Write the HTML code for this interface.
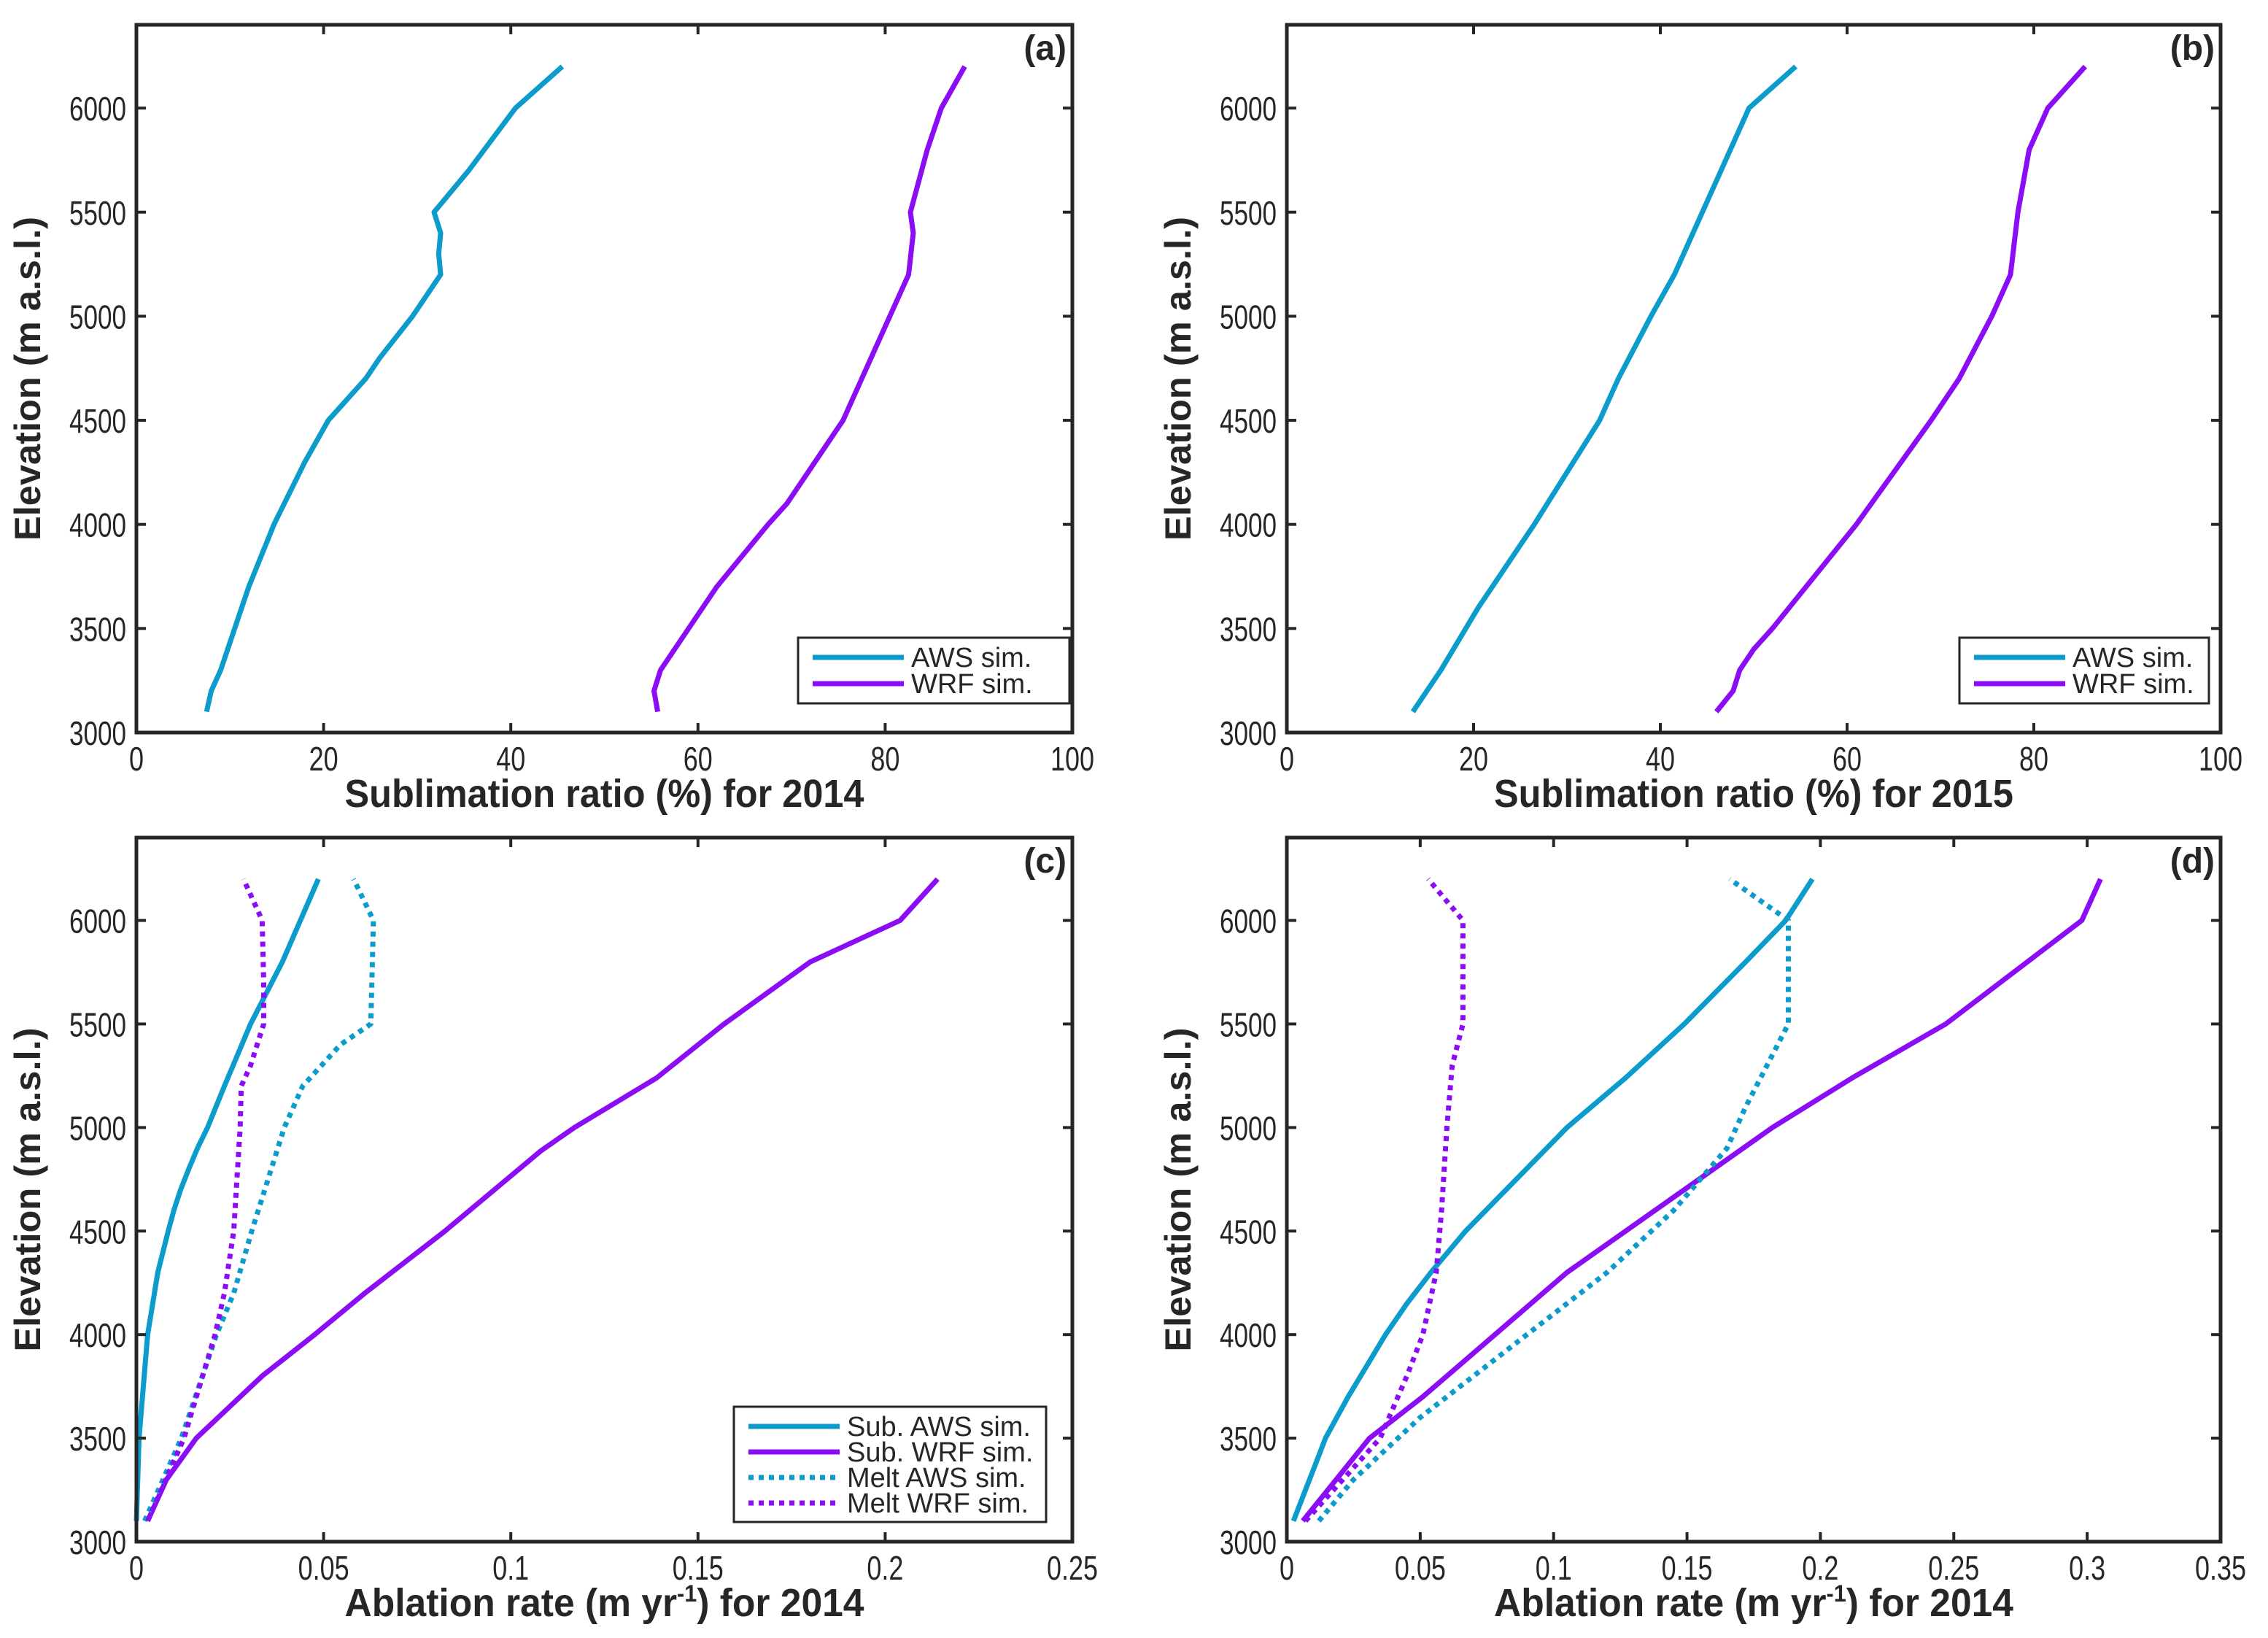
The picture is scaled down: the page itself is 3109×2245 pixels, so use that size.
<!DOCTYPE html>
<html><head><meta charset="utf-8">
<style>
html,body{margin:0;padding:0;background:#fff;}
svg{display:block;}
text{fill:#262626;}
.tk{font-family:"Liberation Sans Narrow","Liberation Sans",sans-serif;font-size:46px;}
.tt{font-family:"Liberation Sans Narrow","Liberation Sans",sans-serif;font-size:54px;font-weight:bold;}
.yt{font-family:"Liberation Sans",sans-serif;font-size:50px;font-weight:bold;}
.pl{font-family:"Liberation Sans",sans-serif;font-size:48px;font-weight:bold;}
.lg{font-family:"Liberation Sans Narrow","Liberation Sans",sans-serif;font-size:38px;}
</style></head>
<body>
<svg id="fig" width="3109" height="2245" viewBox="0 0 3109 2245" xmlns="http://www.w3.org/2000/svg"></svg>
<script>
const BLUE="#0b9ccb", PURPLE="#8b0df5";
// Panel (a) data — sublimation ratio 2014
const elevA_aws=[3100,3200,3300,3500,3700,4000,4300,4500,4700,4800,5000,5200,5300,5400,5500,5700,6000,6200];
const valA_aws=[7.5,8,9,10.5,12,14.7,18,20.5,24.5,26,29.5,32.5,32.3,32.5,31.8,35.5,40.5,45.5];
const elevA_wrf=[3100,3200,3300,3400,3700,4000,4100,4500,4700,5000,5200,5400,5500,5800,6000,6200];
const valA_wrf=[55.7,55.3,56,57.5,62,67.5,69.5,75.5,77.5,80.5,82.5,83,82.7,84.5,86,88.5];
// Panel (b) data — sublimation ratio 2015
const elevB_aws=[3100,3200,3300,3600,4000,4500,4700,5000,5200,5500,5800,6000,6200];
const valB_aws=[13.5,15,16.5,20.5,26.5,33.5,35.5,39,41.5,44.5,47.5,49.5,54.5];
const elevB_wrf=[3100,3200,3300,3400,3500,4000,4500,4700,5000,5200,5500,5800,6000,6200];
const valB_wrf=[46,47.8,48.5,50,52,61,69,72,75.5,77.5,78.3,79.5,81.5,85.5];
// Panel (c) data — ablation rate
const elevC_sa=[3100,3500,4000,4300,4500,4600,4700,4800,4900,5000,5200,5500,5800,6200];
const valC_sa=[0,0.0007,0.003,0.0057,0.0085,0.0100,0.0118,0.0140,0.0163,0.019,0.0235,0.0305,0.039,0.0486];
const elevC_sw=[3100,3300,3500,3800,4000,4200,4500,4887,5000,5240,5500,5800,6000,6200];
const valC_sw=[0.003,0.008,0.016,0.0336,0.0476,0.061,0.0824,0.108,0.117,0.139,0.157,0.18,0.204,0.214];
const elevC_ma=[3100,3500,4000,4200,4500,5000,5200,5400,5500,6000,6200];
const valC_ma=[0.0022,0.012,0.0214,0.026,0.0308,0.0395,0.0444,0.0545,0.0626,0.0633,0.058];
const elevC_mw=[3100,3500,4000,4200,4500,5000,5200,5300,5500,5700,6000,6200];
const valC_mw=[0.003,0.0127,0.021,0.0235,0.026,0.0277,0.028,0.0305,0.034,0.034,0.0336,0.0286];
// Panel (d) data — ablation rate
const elevD_sa=[3100,3200,3300,3400,3500,3700,3850,4000,4150,4300,4500,5000,5240,5500,5800,6000,6200];
const valD_sa=[0.0025,0.0055,0.0085,0.0115,0.0145,0.023,0.030,0.037,0.045,0.054,0.067,0.105,0.127,0.149,0.172,0.187,0.197];
const elevD_sw=[3100,3500,3700,4000,4300,4600,5000,5240,5500,6000,6200];
const valD_sw=[0.006,0.031,0.051,0.078,0.105,0.138,0.182,0.212,0.247,0.298,0.305];
const elevD_ma=[3100,3300,3600,4000,4300,4600,4900,5100,5300,5500,6000,6200];
const valD_ma=[0.012,0.025,0.05,0.09,0.12,0.145,0.165,0.172,0.18,0.188,0.188,0.166];
const elevD_mw=[3100,3500,3800,4000,4300,4600,5000,5300,5500,6000,6200];
const valD_mw=[0.007,0.035,0.045,0.051,0.056,0.058,0.06,0.062,0.066,0.066,0.053];
// tick labels
const yTicks=[3000,3500,4000,4500,5000,5500,6000];
const xTicksAB=[0,20,40,60,80,100];
const xTicksC=[0,0.05,0.1,0.15,0.2,0.25];
const xTicksD=[0,0.05,0.1,0.15,0.2,0.25,0.3,0.35];

const svg=document.getElementById('fig');
const NS="http://www.w3.org/2000/svg";
function mk(tag,attrs,parent){const e=document.createElementNS(NS,tag);for(const k in attrs)e.setAttribute(k,attrs[k]);(parent||svg).appendChild(e);return e;}

function panel(cfg){
  const g=mk('g',{});
  
  
  const L=cfg.x0,R=cfg.x1,T=cfg.y0,B=cfg.y1;
  const sx=v=>L+(v-cfg.xmin)/(cfg.xmax-cfg.xmin)*(R-L);
  const sy=v=>B-(v-3000)/(6400-3000)*(B-T);
  cfg.series.forEach(s=>{
    const d=s.e.map((e,i)=>(i?'L':'M')+sx(s.v[i]).toFixed(1)+' '+sy(e).toFixed(1)).join(' ');
    const p=mk('path',{d:d,fill:'none',stroke:s.c,'stroke-width':7,'stroke-linejoin':'round'},g);
    if(s.dot) p.setAttribute('stroke-dasharray','7 7');
    
    
  });
  yTicks.forEach(v=>{
    const y=sy(v);
    mk('line',{x1:L,x2:L+13,y1:y,y2:y,stroke:'#262626','stroke-width':4},g);
    mk('line',{x1:R-13,x2:R,y1:y,y2:y,stroke:'#262626','stroke-width':4},g);
    const t=mk('text',{x:L-14,y:y+17,'text-anchor':'end',class:'tk',textLength:78,lengthAdjust:'spacingAndGlyphs'},g);
    t.textContent=v;
    
    
  });
  cfg.xt.forEach(v=>{
    const x=sx(v);
    mk('line',{x1:x,x2:x,y1:B,y2:B-13,stroke:'#262626','stroke-width':4},g);
    mk('line',{x1:x,x2:x,y1:T,y2:T+13,stroke:'#262626','stroke-width':4},g);
    const s=String(v);
    const w=s.replace('.','').length*20+(s.includes('.')?10:0);
    const t=mk('text',{x:x,y:B+52,'text-anchor':'middle',class:'tk',textLength:w,lengthAdjust:'spacingAndGlyphs'},g);
    t.textContent=s;
    
    
  });
  const box=mk('rect',{x:L,y:T,width:R-L,height:B-T,fill:'none',stroke:'#262626','stroke-width':5},g);
  
  
  const pl=mk('text',{x:R-8,y:T+48,'text-anchor':'end',class:'pl'},g);
  pl.textContent='('+cfg.id+')';
  
  
  const xt=mk('text',{x:(L+R)/2,y:B+102,'text-anchor':'middle',class:'tt',textLength:712,lengthAdjust:'spacingAndGlyphs'},g);
  
  
  if(cfg.sup){
    xt.appendChild(document.createTextNode('Ablation rate (m yr'));
    const ts=mk('tspan',{dy:-20,'font-size':32},xt);ts.textContent='-1';
    const ts2=mk('tspan',{dy:20},xt);ts2.textContent=') for 2014';
  } else xt.textContent=cfg.xtitle;
  const yx=L-132, yy=(T+B)/2;
  const yt=mk('text',{x:yx,y:yy,'text-anchor':'middle',class:'yt',transform:'rotate(-90 '+yx+' '+yy+')',textLength:444,lengthAdjust:'spacingAndGlyphs'},g);
  yt.textContent='Elevation (m a.s.l.)';
  
  
  const lg=cfg.legend;
  if(!lg) return;
  const lgG=mk('g',{},g);
  
  
  const rowH=lg.rowH, h=lg.items.length*rowH+18;
  mk('rect',{x:lg.x,y:lg.y,width:lg.w,height:h,fill:'#fff',stroke:'#262626','stroke-width':3},lgG);
  lg.items.forEach((it,i)=>{
    const y=lg.y+27+i*rowH;
    const ln=mk('line',{x1:lg.x+20,x2:lg.x+lg.lw,y1:y,y2:y,stroke:it.c,'stroke-width':7},lgG);
    if(it.dot) ln.setAttribute('stroke-dasharray','7 7');
    const t=mk('text',{x:lg.x+lg.lw+10,y:y+13,class:'lg'},lgG);
    t.textContent=it.t;
    
    
  });
}

const legAB=[{t:'AWS sim.',c:BLUE},{t:'WRF sim.',c:PURPLE}];
const legCD=[{t:'Sub. AWS sim.',c:BLUE},{t:'Sub. WRF sim.',c:PURPLE},{t:'Melt AWS sim.',c:BLUE,dot:1},{t:'Melt WRF sim.',c:PURPLE,dot:1}];

panel({id:'a',x0:187,x1:1470,y0:34,y1:1004,xmin:0,xmax:100,xt:xTicksAB,xtitle:'Sublimation ratio (%) for 2014',
  series:[{e:elevA_aws,v:valA_aws,c:BLUE,name:'aws-line'},{e:elevA_wrf,v:valA_wrf,c:PURPLE,name:'wrf-line'}],
  legend:{x:1094,y:874,w:372,lw:145,rowH:36,items:legAB}});
panel({id:'b',x0:1764,x1:3044,y0:34,y1:1004,xmin:0,xmax:100,xt:xTicksAB,xtitle:'Sublimation ratio (%) for 2015',
  series:[{e:elevB_aws,v:valB_aws,c:BLUE,name:'aws-line'},{e:elevB_wrf,v:valB_wrf,c:PURPLE,name:'wrf-line'}],
  legend:{x:2686,y:874,w:342,lw:145,rowH:36,items:legAB}});
panel({id:'c',x0:187,x1:1470,y0:1148,y1:2113,xmin:0,xmax:0.25,xt:xTicksC,sup:1,
  series:[{e:elevC_sa,v:valC_sa,c:BLUE,name:'sub-aws-line'},{e:elevC_sw,v:valC_sw,c:PURPLE,name:'sub-wrf-line'},
          {e:elevC_ma,v:valC_ma,c:BLUE,dot:1,name:'melt-aws-line'},{e:elevC_mw,v:valC_mw,c:PURPLE,dot:1,name:'melt-wrf-line'}],
  legend:{x:1006,y:1928,w:428,lw:145,rowH:35,items:legCD}});
panel({id:'d',x0:1764,x1:3044,y0:1148,y1:2113,xmin:0,xmax:0.35,xt:xTicksD,sup:1,
  series:[{e:elevD_sa,v:valD_sa,c:BLUE,name:'sub-aws-line'},{e:elevD_sw,v:valD_sw,c:PURPLE,name:'sub-wrf-line'},
          {e:elevD_ma,v:valD_ma,c:BLUE,dot:1,name:'melt-aws-line'},{e:elevD_mw,v:valD_mw,c:PURPLE,dot:1,name:'melt-wrf-line'}],
  legend:null});
</script>
</body></html>
